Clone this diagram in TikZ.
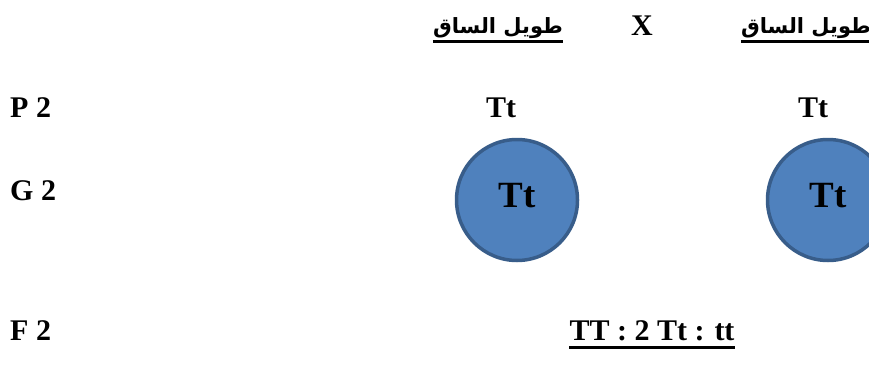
\documentclass[tikz,border=0pt]{standalone}
\usepackage{fontspec}
\setmainfont{Liberation Serif}
\newfontfamily\arabicfont[Script=Arabic]{DejaVu Sans}
\TeXXeTstate=1
\definecolor{gfill}{HTML}{4F81BD}
\definecolor{gdraw}{HTML}{385D8A}
\tikzset{
  txt/.style={font=\fontsize{30}{34}\selectfont\bfseries,inner sep=0pt,anchor=base},
  artxt/.style={font=\arabicfont\fontsize{21}{25}\selectfont\bfseries,inner sep=0pt,anchor=base},
  gam/.style={circle,draw=gdraw,fill=gfill,line width=3.5pt,minimum size=121pt,inner sep=0pt,
    text depth=10pt,font=\fontsize{37}{40}\selectfont\bfseries},
  uline/.style={line width=3pt},
}
\begin{document}
\begin{tikzpicture}[x=1pt,y=-1pt]
\useasboundingbox (0,0) rectangle (869,372);
\clip (0,0) rectangle (869,372);
% header
\node[artxt] (h1) at (498,33) {\arabicfont\beginR طويل الساق\endR};
\node[txt] (cross) at (642,35) {X};
\node[artxt] (h2) at (806,33) {\arabicfont\beginR طويل الساق\endR};
\draw[uline] (h1.west |- 0,41) -- (h1.east |- 0,41);
\draw[uline] (h2.west |- 0,41) -- (h2.east |- 0,41);
% rows
\node[txt,anchor=base west] (p2) at (10,117) {P 2};
\node[txt,anchor=base west] (g2) at (10,200) {G 2};
\node[txt,anchor=base west] (f2) at (10,340) {F 2};
\node[txt] (pa) at (501,117) {Tt};
\node[txt] (pb) at (813,117) {Tt};
\node[gam] (ga) at (517,200) {Tt};
\node[gam] (gb) at (828,200) {Tt};
\node[txt] (ratio) at (652,340) {TT : 2 Tt : tt};
\draw[uline] (ratio.west |- 0,347) -- (ratio.east |- 0,347);
\end{tikzpicture}
\end{document}
